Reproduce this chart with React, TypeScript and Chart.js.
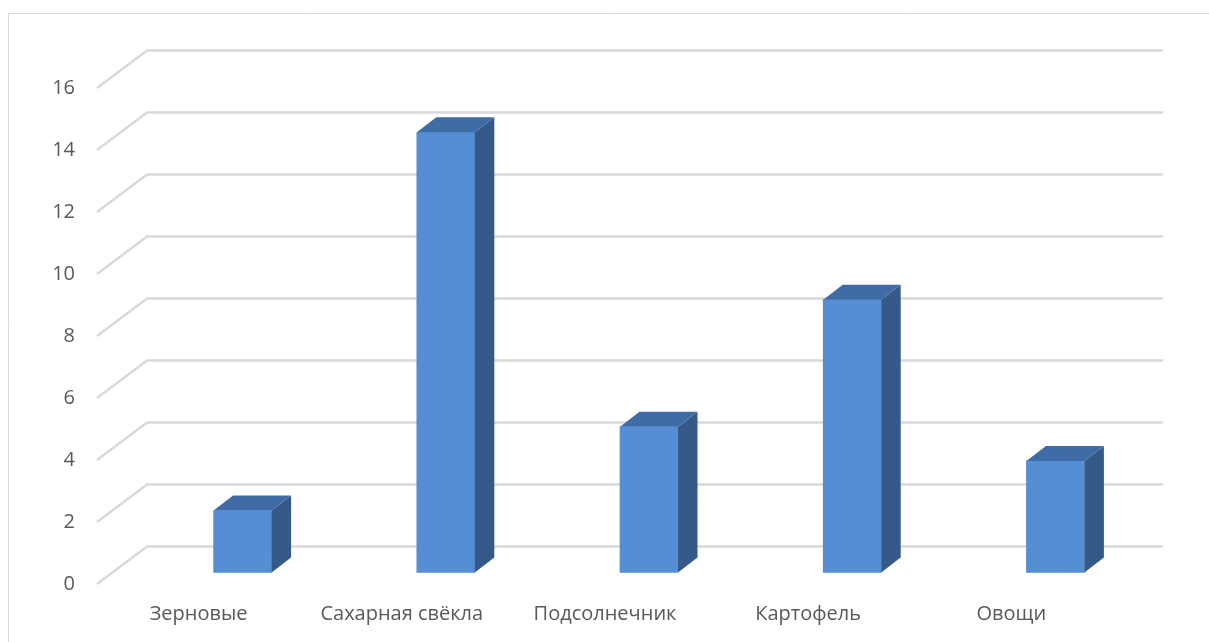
import React, { useEffect, useRef } from "react";
import { Chart, registerables } from "chart.js";

Chart.register(...registerables);

const categories = ["Зерновые", "Сахарная свёкла", "Подсолнечник", "Картофель", "Овощи"];
const values = [2.0, 14.2, 4.7, 8.8, 3.6];
const yMin = 0;
const yMax = 16;
const yStep = 2;

const W = 1209;
const H = 642;
const WALL_DX = 50;
const WALL_DY = -37.5;
const BAR_DX = 44;
const BAR_DY = -11.5;
const DEPTH_DX = 19.5;
const DEPTH_DY = -15;

const FRONT = "#558ed5";
const TOP = "#3f6ca7";
const SIDE = "#355a89";
const GRID = "#d9d9d9";
const TEXT = "#595959";
const FONT = "'Open Sans', 'Noto Sans', sans-serif";

const threeD = {
  id: "threeD",
  beforeDraw(chart: any) {
    const ctx = chart.ctx;
    ctx.save();
    ctx.fillStyle = "#ffffff";
    ctx.fillRect(0, 0, chart.width, chart.height);
    ctx.strokeStyle = GRID;
    ctx.lineWidth = 1;
    ctx.beginPath();
    ctx.moveTo(8.5, chart.height);
    ctx.lineTo(8.5, 13.5);
    ctx.lineTo(chart.width, 13.5);
    ctx.stroke();
    ctx.restore();
  },
  beforeDatasetsDraw(chart: any) {
    const ctx = chart.ctx;
    const ys = chart.scales.y;
    const area = chart.chartArea;
    ctx.save();
    ctx.strokeStyle = GRID;
    ctx.lineWidth = 2.5;
    ctx.lineJoin = "round";
    for (let v = yMin; v <= yMax; v += yStep) {
      const py = ys.getPixelForValue(v);
      ctx.beginPath();
      ctx.moveTo(area.left, py);
      ctx.lineTo(area.left + WALL_DX, py + WALL_DY);
      ctx.lineTo(area.right + WALL_DX, py + WALL_DY);
      ctx.stroke();
    }
    ctx.restore();
    ctx.save();
    ctx.translate(BAR_DX, BAR_DY);
  },
  afterDatasetsDraw(chart: any) {
    const ctx = chart.ctx;
    const meta = chart.getDatasetMeta(0);
    meta.data.forEach((el: any) => {
      const p = el.getProps(["x", "y", "base", "width"], true);
      const left = p.x - p.width / 2;
      const right = p.x + p.width / 2;
      const top = Math.min(p.y, p.base);
      const bottom = Math.max(p.y, p.base);
      ctx.fillStyle = SIDE;
      ctx.beginPath();
      ctx.moveTo(right, top);
      ctx.lineTo(right + DEPTH_DX, top + DEPTH_DY);
      ctx.lineTo(right + DEPTH_DX, bottom + DEPTH_DY);
      ctx.lineTo(right, bottom);
      ctx.closePath();
      ctx.fill();
      ctx.fillStyle = TOP;
      ctx.beginPath();
      ctx.moveTo(left, top);
      ctx.lineTo(left + DEPTH_DX, top + DEPTH_DY);
      ctx.lineTo(right + DEPTH_DX, top + DEPTH_DY);
      ctx.lineTo(right, top);
      ctx.closePath();
      ctx.fill();
    });
    ctx.restore();
  },
};

export default function App() {
  const ref = useRef<HTMLCanvasElement | null>(null);
  useEffect(() => {
    if (!ref.current) return;
    const chart = new Chart(ref.current, {
      type: "bar",
      data: {
        labels: categories,
        datasets: [
          {
            data: values,
            backgroundColor: FRONT,
            borderWidth: 0,
            barThickness: 58,
            clip: false as any,
          },
        ],
      },
      options: {
        responsive: false,
        animation: false,
        layout: { padding: { left: 0, top: 88, right: 96, bottom: 0 } },
        plugins: { legend: { display: false }, tooltip: { enabled: false } },
        scales: {
          x: {
            grid: { display: false, drawTicks: false },
            border: { display: false },
            ticks: { color: TEXT, font: { family: FONT, size: 20 }, padding: 18, maxRotation: 0, autoSkip: false },
            afterFit(scale: any) {
              scale.height = 58;
            },
          },
          y: {
            min: yMin,
            max: yMax,
            grid: { display: false, drawTicks: false },
            border: { display: false },
            ticks: { stepSize: yStep, color: TEXT, font: { family: FONT, size: 20 }, padding: 22 },
            afterFit(scale: any) {
              scale.width = 97;
            },
          },
        },
      },
      plugins: [threeD],
    });
    return () => chart.destroy();
  }, []);
  return (
    <div style={{ position: "fixed", left: 0, top: 0, width: W, height: H }}>
      <canvas ref={ref} width={W} height={H} style={{ display: "block" }} />
    </div>
  );
}
